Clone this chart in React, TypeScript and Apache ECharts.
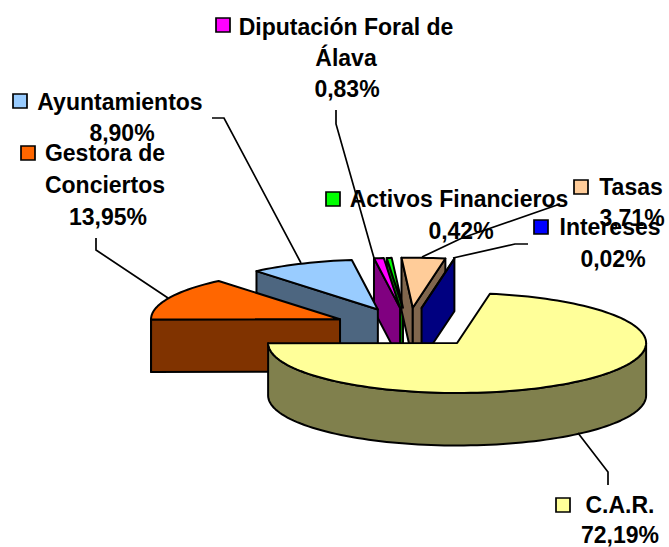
import React, { useEffect, useRef } from "react";
import * as echarts from "echarts";

const categories = ["C.A.R.", "Gestora de Conciertos", "Ayuntamientos", "Diputación Foral de Álava", "Activos Financieros", "Tasas", "Intereses"];
const values = [72.19, 13.95, 8.9, 0.83, 0.42, 3.71, 0.02];
const topColors = ["#FFFF99", "#FF6600", "#99CCFF", "#FF00FF", "#00FF00", "#FFCC99", "#0000FF"];
const wallColors = ["#80804D", "#803300", "#4D6680", "#800080", "#008000", "#80664D", "#000080"];

const labelLines = [
  ["C.A.R."],
  ["Gestora de", "Conciertos"],
  ["Ayuntamientos"],
  ["Diputación Foral de", "Álava"],
  ["Activos Financieros"],
  ["Tasas"],
  ["Intereses"],
];
// key square [x, y]; per-line text centre x and y; percentage centre
const labelLayout = [
  { key: [556, 498], lines: [[620, 505]], pct: [620, 535] },
  { key: [21, 146], lines: [[105, 153], [105, 185]], pct: [108, 217] },
  { key: [13, 94], lines: [[120, 102]], pct: [122, 133] },
  { key: [216, 18], lines: [[346, 27], [346, 58]], pct: [347, 89] },
  { key: [326, 192], lines: [[459, 199]], pct: [461, 231] },
  { key: [574, 180], lines: [[631, 187]], pct: [632, 218] },
  { key: [534, 220], lines: [[610, 227]], pct: [613, 259] },
];
const leaders = [
  [[578, 433], [608, 472], [608, 485]],
  [[96, 238], [96, 250], [168, 298]],
  [[212, 118], [224, 118], [301, 263]],
  [[336, 110], [336, 124], [374, 258]],
  [[560, 204], [462, 238], [422, 257]],
  [[528, 244], [515, 244], [453, 258]],
];

const CX = 408.5, CY = 327.7, RX = 189, TILT = 0.2646, DEPTH = 52.5, EXPLODE = 75.5, START = 10;
const FONT = "Liberation Sans";
const rad = (d: number) => (d * Math.PI) / 180;

const total = values.reduce((a, b) => a + b, 0);
const startAngles: number[] = [];
values.reduce((acc, v, i) => {
  startAngles[i] = acc;
  return acc + (v / total) * 360;
}, START);

function renderItem(params: any, api: any) {
  const i = params.dataIndex;
  const v = api.value(0);
  const a = startAngles[i];
  const b = a + (v / total) * 360;
  const mid = (a + b) / 2;
  const ox = CX + EXPLODE * Math.sin(rad(mid));
  const oy = CY - EXPLODE * TILT * Math.cos(rad(mid));
  const rim = (t: number, dz = 0) => [ox + RX * Math.sin(rad(t)), oy - RX * TILT * Math.cos(rad(t)) + dz];
  const arc = (from: number, to: number, dz = 0) => {
    const n = Math.max(2, Math.ceil((to - from) / 2));
    const pts: number[][] = [];
    for (let k = 0; k <= n; k++) pts.push(rim(from + ((to - from) * k) / n, dz));
    return pts;
  };
  const style = (fill: string) => ({ fill, stroke: "#000", lineWidth: 2, lineJoin: "round" });
  const z2 = Math.round(-Math.cos(rad(mid)) * 100) + 200;
  const children: any[] = [];
  const wall = (pts: number[][]) =>
    children.push({ type: "polygon", z2, shape: { points: pts }, style: style(wallColors[i]) });
  const edgeWall = (t: number) =>
    wall([[ox, oy], rim(t), rim(t, DEPTH), [ox, oy + DEPTH]]);
  const sinA = Math.sin(rad(a));
  const sinB = Math.sin(rad(b));
  if (sinA < 0) edgeWall(a);
  if (sinB > 0) edgeWall(b);
  const lo = Math.max(a, 90), hi = Math.min(b, 270);
  if (lo < hi) wall([...arc(lo, hi), ...arc(lo, hi, DEPTH).reverse()]);
  children.push({
    type: "polygon",
    z2: z2 + 1,
    shape: { points: [[ox, oy], ...arc(a, b)] },
    style: style(topColors[i]),
  });
  return { type: "group", children };
}

const textEl = (text: string, x: number, y: number) => ({
  type: "text",
  x,
  y,
  z: 10,
  style: {
    text,
    x: 0,
    y: 0,
    fill: "#000",
    font: `bold 23px "${FONT}"`,
    textAlign: "center",
    textVerticalAlign: "middle",
  },
});

function buildGraphic() {
  const els: any[] = [];
  leaders.forEach((pts) =>
    els.push({ type: "polyline", z: 9, shape: { points: pts }, style: { fill: "none", stroke: "#000", lineWidth: 1.7 } })
  );
  labelLayout.forEach((l, i) => {
    els.push({
      type: "rect",
      z: 10,
      shape: { x: l.key[0], y: l.key[1], width: 14, height: 14 },
      style: { fill: topColors[i], stroke: "#000", lineWidth: 1.7 },
    });
    labelLines[i].forEach((t, j) => els.push(textEl(t, l.lines[j][0], l.lines[j][1])));
    els.push(textEl(values[i].toFixed(2).replace(".", ",") + "%", l.pct[0], l.pct[1]));
  });
  return els;
}

export default function App() {
  const ref = useRef<HTMLDivElement>(null);
  useEffect(() => {
    const chart = echarts.init(ref.current!, undefined, { renderer: "svg" });
    chart.setOption({
      animation: false,
      backgroundColor: "#fff",
      series: [
        {
          type: "custom",
          coordinateSystem: "none",
          renderItem,
          data: values.map((v, i) => ({ name: categories[i], value: [v] })),
        },
      ],
      graphic: buildGraphic(),
    });
    return () => chart.dispose();
  }, []);
  return <div ref={ref} style={{ position: "absolute", left: 0, top: 0, width: 669, height: 547 }} />;
}
